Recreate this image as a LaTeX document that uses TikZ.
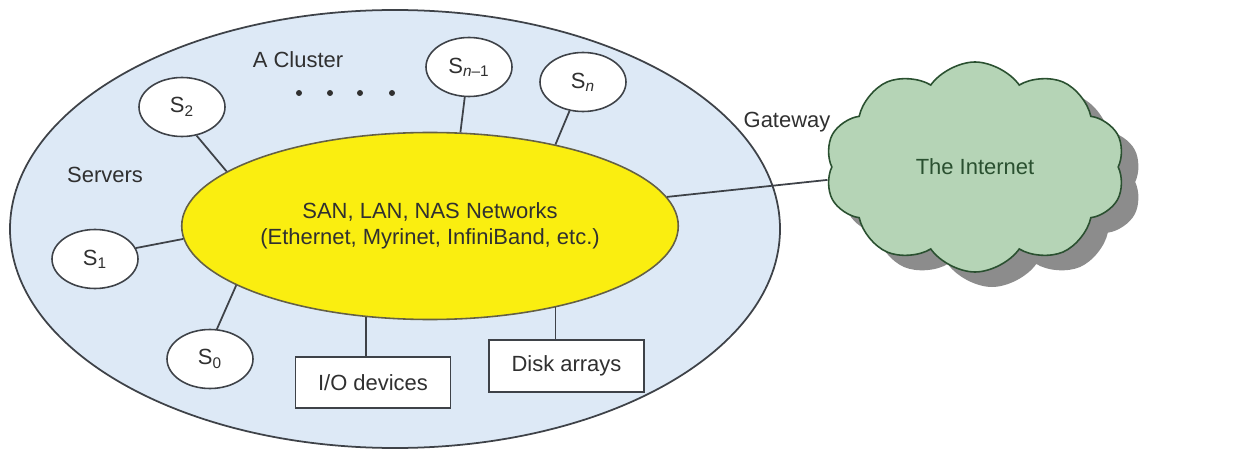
\documentclass[tikz,border=0pt]{standalone}
\usepackage{fontspec}
\setmainfont{Liberation Sans}
\usetikzlibrary{shapes.geometric,shapes.symbols,shadows}
\definecolor{clusterblue}{RGB}{221,233,246}
\definecolor{netyellow}{RGB}{250,238,16}
\definecolor{cloudgreen}{RGB}{181,212,182}
\definecolor{clouddark}{RGB}{42,80,48}
\definecolor{edgegray}{RGB}{62,66,72}
\definecolor{textgray}{RGB}{48,48,48}
\tikzset{
    server/.style={draw=edgegray,line width=0.9pt,fill=white,ellipse,inner sep=0pt,
        minimum width=1.72cm,minimum height=1.18cm},
    device/.style={draw=edgegray,line width=0.9pt,fill=white,rectangle,inner sep=0pt,
        minimum width=3.1cm,minimum height=1.03cm},
    link/.style={draw=edgegray,line width=1pt}
}
\begin{document}
\begin{tikzpicture}[font=\fontsize{12.5}{14.5}\selectfont,text=textgray]
        \useasboundingbox (0,0) rectangle (24.96,9);
        %% Cluster and its network
        \node[draw=edgegray,line width=1pt,fill=clusterblue,ellipse,
            minimum width=15.4cm,minimum height=8.76cm] (cluster) at (7.9,4.42) {};
        \node[draw=black!70!yellow,line width=0.9pt,fill=netyellow,ellipse,align=center,
            minimum width=9.9cm,minimum height=3.74cm] (net) at (8.6,4.48)
            {SAN, LAN, NAS Networks\\(Ethernet, Myrinet, InfiniBand, etc.)};
        %% Servers
        \node[server] (s2) at (3.64,6.86) {S\textsubscript{2}};
        \node[server] (snm) at (9.38,7.66) {S\textsubscript{\textit{n}–1}};
        \node[server] (sn) at (11.66,7.36) {S\textsubscript{\textit{n}}};
        \node[server] (s1) at (1.9,3.82) {S\textsubscript{1}};
        \node[server] (s0) at (4.2,1.82) {S\textsubscript{0}};
        \foreach \x in {5.98,6.6,7.2,7.84}
            \fill[textgray] (\x,7.14) circle (1.7pt);
        %% Devices
        \node[device] (io) at (7.46,1.35) {I/O devices};
        \node[device] (disk) at (11.33,1.68) {Disk arrays};
        %% The Internet
        \node[cloud,cloud puffs=10,cloud puff arc=110,draw=clouddark,line width=0.9pt,
            fill=cloudgreen,minimum width=6cm,minimum height=4.2cm,
            drop shadow={shadow xshift=0.34cm,shadow yshift=-0.3cm,fill=black!45,opacity=1}]
            (inet) at (19.5,5.66) {};
        \node[text=clouddark] (inettext) at (inet.center) {The Internet};
        %% Labels
        \node (cluslabel) at (5.96,7.8) {A Cluster};
        \node (srvlabel) at (2.1,5.5) {Servers};
        \node (gwlabel) at (15.74,6.56) {Gateway};
        %% Links
        \draw[link] (s2.-63) -- (net.165);
        \draw[link] (snm.-98) -- (net.72);
        \draw[link] (sn.-115) -- (net.33);
        \draw[link] (s1.15) -- (net.-177);
        \draw[link] (s0.77) -- (net.-163);
        \draw[link] (net.-125) -- (net.-125 |- io.north);
        \draw[link] (net.-33) -- (net.-33 |- disk.north);
        \draw[link] (net.7) -- (inet.-175);
    \end{tikzpicture}
\end{document}
